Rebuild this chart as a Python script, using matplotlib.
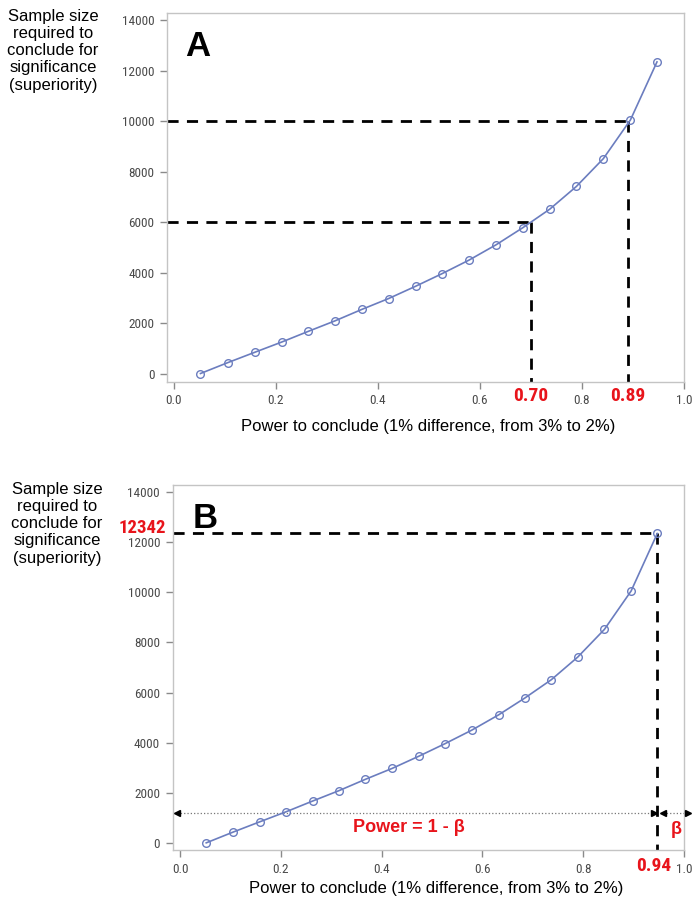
import numpy as np
import matplotlib.pyplot as plt
import matplotlib.transforms as mtransforms
from matplotlib import font_manager

# power (x) and required sample size (y)
power = [0.052, 0.105, 0.158, 0.211, 0.263, 0.316, 0.368, 0.421, 0.474,
         0.526, 0.579, 0.632, 0.684, 0.737, 0.789, 0.842, 0.895, 0.947]
sample_size = [20, 446, 856, 1262, 1684, 2104, 2552, 2986, 3472,
               3972, 4510, 5116, 5786, 6522, 7417, 8521, 10050, 12342]

xticks = [0.0, 0.2, 0.4, 0.6, 0.8, 1.0]
yticks = [0, 2000, 4000, 6000, 8000, 10000, 12000, 14000]

# reference lines, panel A
a_levels = [6000, 10000]
a_powers = [0.70, 0.89]
a_labels = ['0.70', '0.89']
# panel B
b_level = 12342
b_power = 0.947
b_label_n = '12342'
b_label_p = '0.94'
arrow_y = 1220

ylab = 'Sample size\nrequired to\nconclude for\nsignificance\n(superiority)'
xlab = 'Power to conclude (1% difference, from 3% to 2%)'

# pick fonts that are really there
installed = set(f.name for f in font_manager.fontManager.ttflist)
sans = [f for f in ['Liberation Sans', 'Arial', 'Roboto'] if f in installed] + ['DejaVu Sans']
narrow = [f for f in ['Liberation Sans Narrow', 'Roboto Condensed', 'Arial Narrow']
          if f in installed]
if narrow:
    narrow = narrow + ['DejaVu Sans']
    nsize = 9.5
    rsize = 14
else:
    narrow = sans
    nsize = 8.5
    rsize = 12
plt.rcParams['font.family'] = sans

red = '#e8141b'
curve = '#6b7dbf'

fig = plt.figure(figsize=(6.94, 9.02), dpi=100)
axA = fig.add_axes([0.2406, 0.5765, 0.745, 0.4091])
axB = fig.add_axes([0.2486, 0.0576, 0.737, 0.4042])


def style(ax, xlim, ylim):
    ax.plot(power, sample_size, color=curve, lw=1.2, marker='o', ms=5.5,
            mfc='none', mec=curve, mew=1.0, zorder=3)
    ax.set_xlim(*xlim)
    ax.set_ylim(*ylim)
    ax.set_xticks(xticks)
    ax.set_xticklabels(['%.1f' % t for t in xticks])
    ax.set_yticks(yticks)
    ax.set_yticklabels([str(t) for t in yticks])
    for s in ax.spines.values():
        s.set_color('#c4c4c4')
        s.set_linewidth(1.0)
    ax.tick_params(colors='#8a8a8a', labelcolor='#4a4a4a', length=5, width=1,
                   labelsize=nsize, pad=4)
    for lab in ax.get_xticklabels() + ax.get_yticklabels():
        lab.set_family(narrow)


dash = dict(color='black', lw=2.0, ls=(0, (4, 3)), zorder=2)

# ---- panel A
style(axA, (-0.0137, 1.0), (-316, 14277))
x0 = axA.get_xlim()[0]
y0 = axA.get_ylim()[0]
for lev, p, lab in zip(a_levels, a_powers, a_labels):
    axA.plot([x0, p], [lev, lev], **dash)
    axA.plot([p, p], [lev, y0], clip_on=False, **dash)
    axA.text(p, -0.037, lab, transform=axA.get_xaxis_transform(), ha='center',
             va='center', color=red, fontsize=rsize, fontweight='bold', family=narrow)
axA.text(0.035, 0.955, 'A', transform=axA.transAxes, fontsize=25,
         fontweight='bold', va='top', ha='left')

# ---- panel B
style(axB, (-0.0149, 0.998), (-267, 14255))
x0 = axB.get_xlim()[0]
y0 = axB.get_ylim()[0]
axB.plot([x0, b_power], [b_level, b_level], **dash)
axB.plot([b_power, b_power], [b_level, y0], clip_on=False, **dash)
trans = mtransforms.offset_copy(axB.get_yaxis_transform(), fig=fig, x=-5, y=4,
                                units='points')
axB.text(0, b_level, b_label_n, transform=trans, ha='right', va='center',
         color=red, fontsize=rsize - 0.5, fontweight='bold', family=narrow)
axB.text(0.94, -0.045, b_label_p, transform=axB.get_xaxis_transform(),
         ha='center', va='center', color=red, fontsize=rsize, fontweight='bold',
         family=narrow)
axB.text(0.04, 0.955, 'B', transform=axB.transAxes, fontsize=25,
         fontweight='bold', va='top', ha='left')

# dotted arrows: power = 1 - beta, and beta
for xa, xb in [(-0.006, 0.94), (0.958, 1.007)]:
    axB.plot([xa, xb], [arrow_y, arrow_y], color='#777777', lw=0.9, ls=':',
             clip_on=False, zorder=2)
    axB.plot([xa], [arrow_y], marker='<', color='black', ms=4, clip_on=False,
             zorder=4)
    axB.plot([xb], [arrow_y], marker='>', color='black', ms=4, clip_on=False,
             zorder=4)
axB.text(0.455, 612, 'Power = 1 - \u03b2', ha='center', va='center', color=red,
         fontsize=13, fontweight='bold')
axB.text(0.985, 540, '\u03b2', ha='center', va='center', color=red,
         fontsize=13, fontweight='bold')

# y-axis captions and x labels as figure text
fig.text(53 / 694, 1 - 9 / 902, ylab, ha='center', va='top', fontsize=12,
         linespacing=1.18)
fig.text(57 / 694, 1 - 482 / 902, ylab, ha='center', va='top', fontsize=12,
         linespacing=1.18)
fig.text(428 / 694, 1 - 427 / 902, xlab, ha='center', va='center', fontsize=12)
fig.text(436 / 694, 1 - 889 / 902, xlab, ha='center', va='center', fontsize=12)

fig.savefig('out.png', dpi=100)
